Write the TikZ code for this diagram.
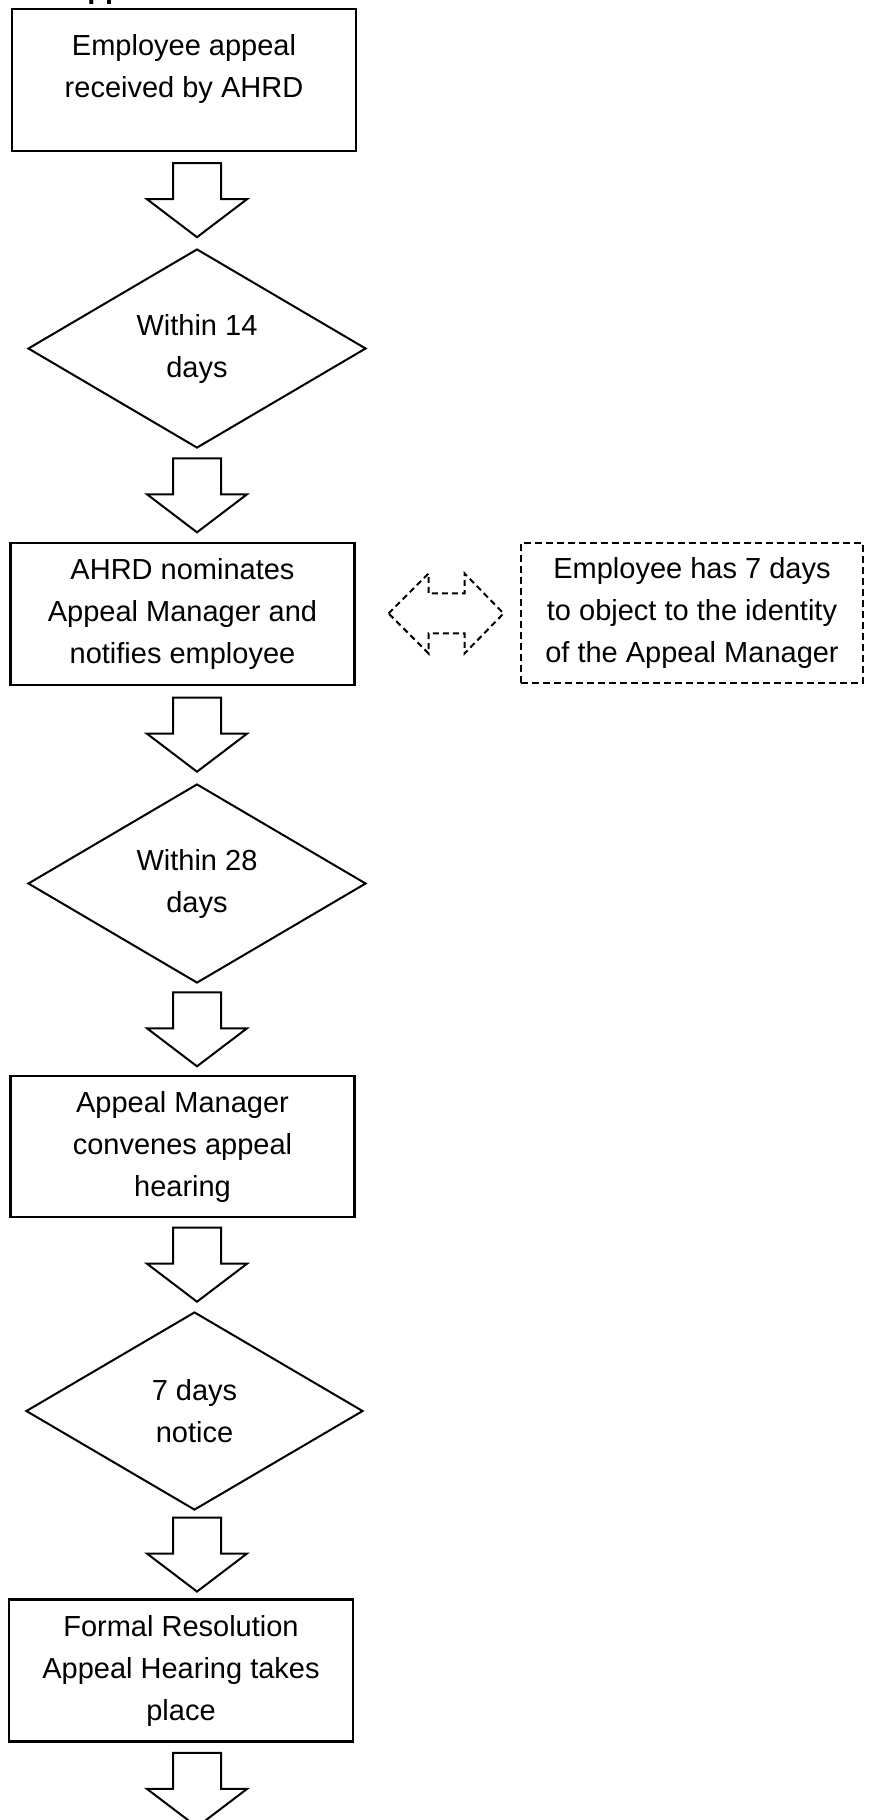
\documentclass[tikz,border=0pt]{standalone}
\usepackage{fontspec}
\setmainfont{Liberation Sans}
\usetikzlibrary{shapes.geometric, calc}

\begin{document}
\begin{tikzpicture}[
    x=0.5pt, y=-0.5pt,
    font=\fontsize{14.5pt}{21pt}\selectfont,
    stepbox/.style={draw, line width=1.4pt, minimum width=172pt, minimum height=71pt, align=center, inner sep=0pt},
    decision/.style={draw, diamond, line width=1pt, minimum width=169pt, minimum height=99.5pt, align=center, inner sep=0pt},
    notebox/.style={draw, line width=1.2pt, dash pattern=on 3.5pt off 2pt, minimum width=171pt, minimum height=70pt, align=center, inner sep=0pt},
    blockarrow/.style={draw, line width=1pt, line join=miter},
    swap/.style={draw, line width=1pt, dash pattern=on 3pt off 2pt},
    flowarrow/.pic={
        \draw[blockarrow] (-24,-37) -- (24,-37) -- (24,-1) -- (50,-1) -- (0,37)
            -- (-50,-1) -- (-24,-1) -- cycle;
    },
    swaparrow/.pic={
        \draw[swap] (-57.5,0) -- (-17.5,-40) -- (-17.5,-20) -- (18.5,-20) -- (18.5,-40)
            -- (57.5,0) -- (18.5,40) -- (18.5,20) -- (-17.5,20) -- (-17.5,40) -- cycle;
    }
]

% Page
\useasboundingbox (0,0) rectangle (872,1820);
\clip (0,0) rectangle (872,1820);

% Heading (cut off at the top)
\node[font=\bfseries\fontsize{14.5pt}{21pt}\selectfont, anchor=base west, inner sep=0pt]
    (title) at (66,-2) {Appeal};

% =========================
% Steps
% =========================
\node[stepbox, text depth=14.5pt] (recv) at (184,80) {Employee appeal\\received by AHRD};
\node[decision] (d14) at (197,348.5) {Within 14\\days};
\node[stepbox] (nominate) at (182.5,614) {AHRD nominates\\Appeal Manager and\\notifies employee};
\node[decision] (d28) at (197,883.5) {Within 28\\days};
\node[stepbox, minimum height=70.5pt] (convene) at (182.5,1146.5) {Appeal Manager\\convenes appeal\\hearing};
\node[decision, minimum width=168.5pt, minimum height=99pt] (d7) at (194.5,1411) {7 days\\notice};
\node[stepbox] (hearing) at (181,1670.5) {Formal Resolution\\Appeal Hearing takes\\place};

% Side note
\node[notebox] (objection) at (692,613) {Employee has 7 days\\to object to the identity\\of the Appeal Manager};

% =========================
% Block arrows
% =========================
\foreach \a/\b in {recv/d14, d14/nominate, nominate/d28, d28/convene, convene/d7, d7/hearing}
{
    \coordinate (m) at ($(\a.south)!0.5!(\b.north)$);
    \pic at (m -| d14) {flowarrow};
}
\coordinate (last) at ($(hearing.south)+(0,47)$);
\pic at (last -| d14) {flowarrow};

% Two-way arrow to the note
\coordinate (side) at ($(nominate.east)!0.55!(objection.west)$);
\pic at (side) {swaparrow};

\end{tikzpicture}
\end{document}
